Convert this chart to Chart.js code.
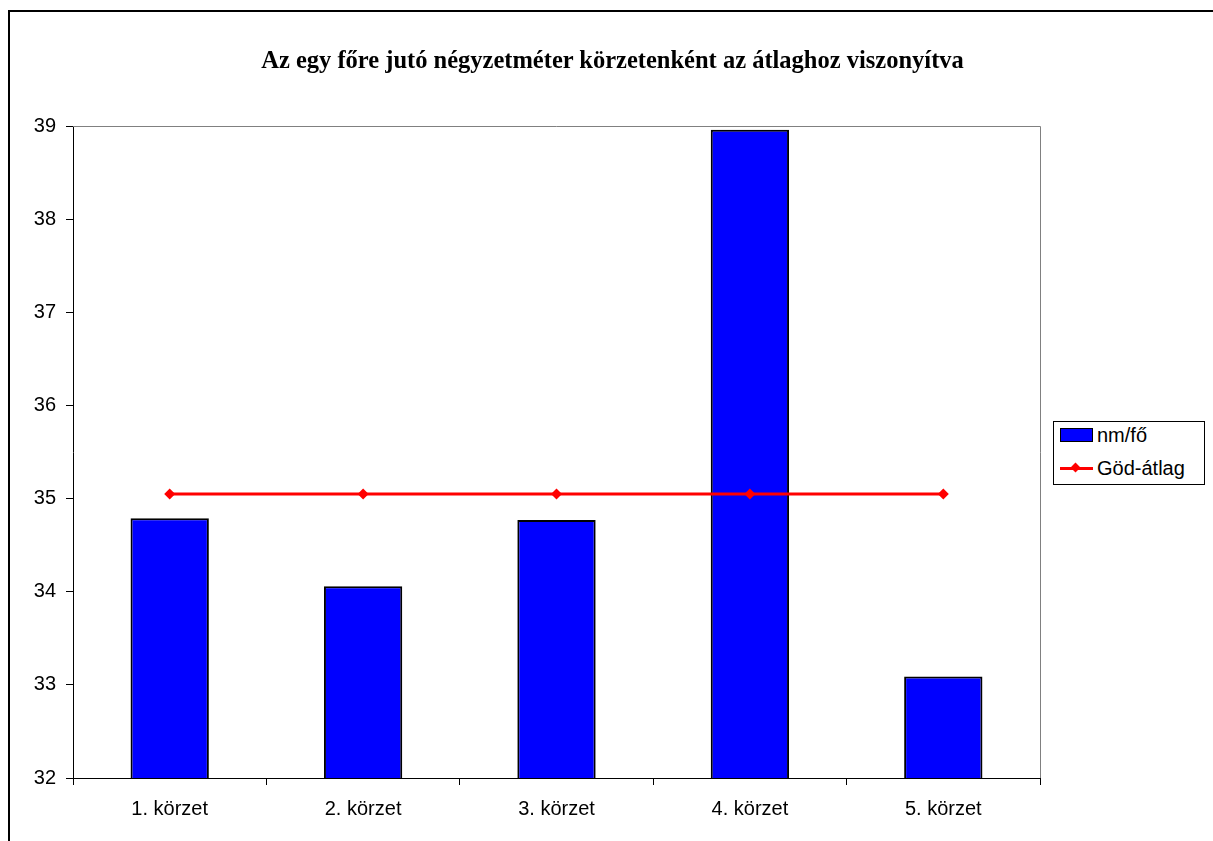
<!DOCTYPE html>
<html>
<head>
<meta charset="utf-8">
<script src="https://cdn.jsdelivr.net/npm/chart.js@4/dist/chart.umd.min.js"></script>
<style>
    body { margin: 0; background: #fff; }
    #wrap { position: relative; width: 1213px; height: 841px; overflow: hidden; }
    #frame { position: absolute; left: 8px; top: 10px; width: 1300px; height: 900px; border: 2px solid #000; }
    #title { position: absolute; left: 0; width: 1225px; top: 46px; text-align: center;
        font: bold 24.5px "Liberation Serif", "Times New Roman", serif; color: #000; }
    #legend { position: absolute; left: 1053px; top: 421px; width: 150px; height: 62px;
        border: 1px solid #000; background: #fff; font: 20px "Liberation Sans", Arial, sans-serif; }
    .item { position: absolute; left: 6px; height: 24px; display: flex; align-items: center; }
    .swatch { width: 31px; height: 12px; background: #0000ff; border: 1px solid #000; margin-right: 4px; }
    .lineKey { position: relative; width: 33px; height: 12px; margin-right: 4px; }
    .lineKey::before { content: ""; position: absolute; left: 0; right: 0; top: 5px; height: 3px; background: #ff0000; }
    .lineKey::after { content: ""; position: absolute; left: 12px; top: 2px; width: 7px; height: 7px; background: #ff0000; transform: rotate(45deg); }
    canvas { position: absolute; left: 0; top: 0; }
</style>
</head>
<body>
<div id="wrap">
    <div id="frame"></div>
    <canvas id="chart" width="1213" height="841"></canvas>
    <div id="title">Az egy főre jutó négyzetméter körzetenként az átlaghoz viszonyítva</div>
    <div id="legend">
        <div class="item" style="top:1px"><span class="swatch"></span>nm/fő</div>
        <div class="item" style="top:34px"><span class="lineKey"></span>Göd-átlag</div>
    </div>
</div>
<script>
// chart data
const districts = ["1. körzet", "2. körzet", "3. körzet", "4. körzet", "5. körzet"];
const perCapita = [34.79, 34.06, 34.77, 38.96, 33.09];
const godAverage = [35.05, 35.05, 35.05, 35.05, 35.05];
const yTicks = [32, 33, 34, 35, 36, 37, 38, 39];

// grey frame on top and right of plot area
const plotFrame = {
    id: "plotFrame",
    afterDraw(chart) {
        const { ctx, chartArea: a } = chart;
        ctx.save();
        ctx.strokeStyle = "#808080";
        ctx.lineWidth = 1;
        ctx.beginPath();
        ctx.moveTo(a.left, a.top + 0.5);
        ctx.lineTo(a.right + 0.5, a.top + 0.5);
        ctx.lineTo(a.right + 0.5, a.bottom);
        ctx.stroke();
        ctx.restore();
    }
};

const font = { family: "'Liberation Sans', Arial, sans-serif", size: 20 };

new Chart(document.getElementById("chart"), {
    type: "bar",
    data: {
        labels: districts,
        datasets: [
            {
                type: "line",
                label: "Göd-átlag",
                data: godAverage,
                borderColor: "#ff0000",
                backgroundColor: "#ff0000",
                borderWidth: 3,
                pointStyle: "rectRot",
                pointRadius: 5.5,
                pointBorderWidth: 0,
                order: 0,
            },
            {
                label: "nm/fő",
                data: perCapita,
                backgroundColor: "#0000ff",
                borderColor: "#000000",
                borderWidth: 2,
                categoryPercentage: 1,
                barPercentage: 0.405,
                order: 1,
            },
        ],
    },
    options: {
        responsive: false,
        animation: false,
        layout: { padding: { top: 126, right: 173, left: 0, bottom: 0 } },
        plugins: {
            legend: { display: false },
            title: { display: false },
            tooltip: { enabled: false },
        },
        scales: {
            x: {
                offset: true,
                grid: { offset: true, drawOnChartArea: false, tickLength: 7, color: "#000" },
                border: { color: "#000", width: 1 },
                ticks: { color: "#000", font: font, padding: 12 },
                afterFit(axis) { axis.height = 63; },
            },
            y: {
                min: yTicks[0],
                max: yTicks[yTicks.length - 1],
                afterBuildTicks(axis) { axis.ticks = yTicks.map((v) => ({ value: v })); },
                grid: { drawOnChartArea: false, tickLength: 7, color: "#000" },
                border: { color: "#000", width: 1 },
                ticks: { color: "#000", font: font, padding: 10 },
                afterFit(axis) { axis.width = 73; },
            },
        },
    },
    plugins: [plotFrame],
});
</script>
</body>
</html>
